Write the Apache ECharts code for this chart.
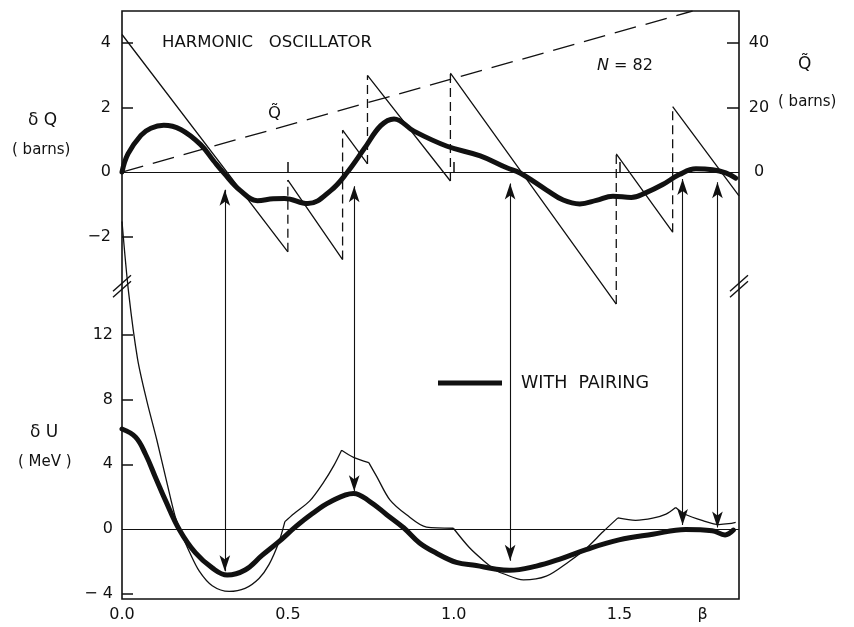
<!DOCTYPE html>
<html><head><meta charset="utf-8">
<script src="https://cdn.jsdelivr.net/npm/echarts@6/dist/echarts.min.js"></script>
<style>html,body{margin:0;padding:0;background:#fff}#c{width:854px;height:627px}</style>
</head><body><div id="c"></div>
<script>
// ---------- axes ----------
const betaRange = [0, 1.86];
const betaTickValues = [0.5, 1.0, 1.5];
const betaLabelValues = [0, 0.5, 1.0, 1.5, 1.75];   // 1.75 carries the "β" label
const dQRange = [-13.26, 5];
const dQTickValues = [-2, 2, 4];
const dQLabelValues = [-2, 0, 2, 4];
const qTildeRange = [-132.6, 50];
const qTildeTickValues = [20, 40];
const qTildeLabelValues = [0, 20, 40];
const dURange = [-4.32, 32.0];
const dUTickValues = [-4, 4, 8, 12];
const dULabelValues = [-4, 0, 4, 8, 12];

// ---------- Q~ (smooth quadrupole, dashed, right axis) ----------
const qTildeBeta = [0, 1.72];
const qTildeVal  = [0, 50];

// ---------- dQ without pairing (sawtooth), null = break ----------
const sawBeta = [0, 0.50, null, 0.50, 0.665, null, 0.665, 0.74, null, 0.74, 0.99, null, 0.99, 1.49, null, 1.49, 1.66, null, 1.66, 1.86];
const sawQ    = [4.27, -2.48, null, -0.25, -2.72, null, 1.3, 0.25, null, 3.0, -0.28, null, 3.07, -4.1, null, 0.56, -1.87, null, 2.03, -0.74];
// dashed jumps of the sawtooth
const jumpBeta = [0.50, 0.50, null, 0.665, 0.665, null, 0.74, 0.74, null, 0.99, 0.99, null, 1.49, 1.49, null, 1.66, 1.66];
const jumpQ    = [-2.48, -0.25, null, -2.72, 1.3, null, 0.25, 3.0, null, -0.28, 3.07, null, -4.1, 0.56, null, -1.87, 2.03];

// ---------- dQ with pairing (thick) ----------
const pairQBeta = [0, 0.018, 0.057, 0.087, 0.126, 0.177, 0.237, 0.276, 0.306, 0.357, 0.408, 0.456, 0.49, 0.56, 0.63, 0.68, 0.73, 0.78, 0.82, 0.88, 0.98, 1.08, 1.16, 1.20, 1.28, 1.33, 1.38, 1.43, 1.48, 1.535, 1.58, 1.63, 1.68, 1.73, 1.78, 1.82, 1.85];
const pairQ     = [0, 0.56, 1.14, 1.36, 1.45, 1.32, 0.85, 0.35, -0.02, -0.58, -0.89, -0.83, -0.82, -0.98, -0.57, 0.0, 0.72, 1.44, 1.65, 1.27, 0.8, 0.5, 0.13, -0.03, -0.56, -0.87, -0.99, -0.88, -0.75, -0.79, -0.64, -0.39, -0.08, 0.1, 0.07, -0.03, -0.19];

// ---------- dU without pairing (thin), null = kink break ----------
const thinUBeta = [0, 0.02, 0.047, 0.075, 0.105, 0.135, 0.16, 0.18, 0.203, 0.233, 0.272, 0.323, 0.371, 0.413, 0.443, 0.473, 0.491, null,
  0.491, 0.518, 0.566, 0.608, 0.638, 0.662, null,
  0.662, 0.698, 0.744, null,
  0.744, 0.768, 0.807, 0.858, 0.918, 0.999, null,
  0.999, 1.047, 1.09, 1.129, 1.15, 1.21, 1.279, 1.348, 1.399, 1.45, 1.495, null,
  1.495, 1.548, 1.60, 1.64, 1.669, null,
  1.669, 1.699, 1.751, 1.799, 1.829, 1.85];
const thinU = [19.0, 14.6, 10.5, 7.9, 5.5, 2.9, 0.8, -0.3, -1.4, -2.6, -3.5, -3.85, -3.66, -3.05, -2.2, -0.8, 0.46, null,
  0.46, 0.95, 1.74, 2.9, 3.9, 4.87, null,
  4.87, 4.43, 4.1, null,
  4.1, 3.24, 1.82, 0.88, 0.12, 0.05, null,
  0.05, -1.14, -1.95, -2.57, -2.76, -3.14, -2.91, -2.0, -1.2, -0.17, 0.69, null,
  0.69, 0.54, 0.67, 0.92, 1.33, null,
  1.33, 0.9, 0.52, 0.28, 0.33, 0.42];

// ---------- dU with pairing (thick) ----------
const pairUBeta = [0, 0.041, 0.071, 0.101, 0.131, 0.173, 0.221, 0.272, 0.317, 0.371, 0.422, 0.473, 0.521, 0.573, 0.627, 0.698, 0.747, 0.798, 0.849, 0.897, 0.948, 1.008, 1.068, 1.12, 1.168, 1.249, 1.318, 1.399, 1.498, 1.60, 1.699, 1.779, 1.818, 1.843];
const pairU     = [6.18, 5.68, 4.62, 3.19, 1.77, -0.04, -1.46, -2.4, -2.84, -2.53, -1.63, -0.78, 0.1, 0.94, 1.67, 2.2, 1.7, 0.89, 0.08, -0.86, -1.49, -2.06, -2.25, -2.45, -2.55, -2.29, -1.87, -1.27, -0.67, -0.32, -0.03, -0.1, -0.36, -0.06];

// ---------- double arrows: dQ zero crossing (top) <-> dU extremum (bottom) ----------
const arrowBeta    = [0.31, 0.70, 1.17, 1.69, 1.795];
const arrowTopQ    = [-0.55, -0.44, -0.36, -0.22, -0.32];
const arrowBottomU = [-2.6, 2.33, -1.96, 0.25, 0.1];

// axis-break position (in dU units)
const breakU = 15;

const FONT = 'DejaVu Sans';
const INK = '#111';

function pairs(xs, ys) {
  return xs.map((x, i) => (x === null || ys[i] === null) ? [null, null] : [x, ys[i]]);
}
function fmtNum(v) { return v < 0 ? '\u2212' + (-v) : String(v); }

const chart = echarts.init(document.getElementById('c'), null, {renderer: 'canvas'});

const labelStyle = {color: INK, fontFamily: FONT, fontSize: 16};

const option = {
  animation: false,
  backgroundColor: '#fff',
  grid: {left: 122, top: 11, width: 617, height: 588, show: true, borderColor: INK, borderWidth: 1.6, backgroundColor: 'transparent'},
  legend: {
    data: [{name: 'WITH PAIRING', icon: 'rect'}],
    left: 438, top: 374, padding: 0, itemWidth: 64, itemHeight: 5, selectedMode: false,
    formatter: () => 'WITH  PAIRING',
    textStyle: {color: INK, fontFamily: FONT, fontSize: 17.5, padding: [0, 0, 0, 14]}
  },
  xAxis: [{
    type: 'value', min: betaRange[0], max: betaRange[1], position: 'bottom',
    axisLine: {show: false}, splitLine: {show: false},
    axisTick: {show: true, inside: true, length: 10, customValues: betaTickValues, lineStyle: {color: INK, width: 1.5}},
    axisLabel: Object.assign({margin: 8, customValues: betaLabelValues,
      formatter: v => (Math.abs(v - 1.75) < 1e-6 ? 'β' : v.toFixed(1))}, labelStyle)
  }],
  yAxis: [{
    type: 'value', min: dQRange[0], max: dQRange[1], position: 'left',
    axisLine: {show: false}, splitLine: {show: false},
    axisTick: {show: true, inside: true, length: 11, customValues: dQTickValues, lineStyle: {color: INK, width: 1.5}},
    axisLabel: Object.assign({margin: 11, customValues: dQLabelValues, formatter: fmtNum}, labelStyle)
  }, {
    type: 'value', min: qTildeRange[0], max: qTildeRange[1], position: 'right',
    axisLine: {show: false}, splitLine: {show: false},
    axisTick: {show: true, inside: true, length: 12, customValues: qTildeTickValues, lineStyle: {color: INK, width: 1.5}},
    axisLabel: Object.assign({margin: 20, align: 'center', customValues: qTildeLabelValues, formatter: fmtNum}, labelStyle)
  }, {
    type: 'value', min: dURange[0], max: dURange[1], position: 'left',
    axisLine: {show: false}, splitLine: {show: false},
    axisTick: {show: true, inside: true, length: 11, customValues: dUTickValues, lineStyle: {color: INK, width: 1.5}},
    axisLabel: Object.assign({margin: 9, customValues: dULabelValues,
      formatter: v => (v < 0 ? '\u2212 ' + (-v) : String(v))}, labelStyle)
  }],
  series: [
    {id: 'qTilde', name: 'Q~', type: 'line', xAxisIndex: 0, yAxisIndex: 1, data: pairs(qTildeBeta, qTildeVal),
     showSymbol: false, symbol: 'none', silent: true, lineStyle: {color: INK, width: 1.3, type: [22, 10]}},
    {id: 'saw', name: 'dQ', type: 'line', xAxisIndex: 0, yAxisIndex: 0, data: pairs(sawBeta, sawQ),
     showSymbol: false, symbol: 'none', silent: true, lineStyle: {color: INK, width: 1.3}},
    {id: 'jumps', name: 'dQ jumps', type: 'line', xAxisIndex: 0, yAxisIndex: 0, data: pairs(jumpBeta, jumpQ),
     showSymbol: false, symbol: 'none', silent: true, lineStyle: {color: INK, width: 1.3, type: [9, 5]}},
    {id: 'pairQ', name: 'WITH PAIRING', type: 'line', xAxisIndex: 0, yAxisIndex: 0, data: pairs(pairQBeta, pairQ),
     showSymbol: false, symbol: 'none', silent: true, smooth: 0.4, z: 5, itemStyle: {color: INK},
     lineStyle: {color: INK, width: 5, cap: 'round', join: 'round'},
     markLine: {silent: true, symbol: 'none', label: {show: false}, lineStyle: {color: INK, width: 1.2, type: 'solid'}, data: [{yAxis: 0}]}},
    {id: 'thinU', name: 'dU', type: 'line', xAxisIndex: 0, yAxisIndex: 2, data: pairs(thinUBeta, thinU),
     showSymbol: false, symbol: 'none', silent: true, smooth: 0.3, lineStyle: {color: INK, width: 1.3}},
    {id: 'pairU', name: 'WITH PAIRING', type: 'line', xAxisIndex: 0, yAxisIndex: 2, data: pairs(pairUBeta, pairU),
     showSymbol: false, symbol: 'none', silent: true, smooth: 0.4, z: 5, itemStyle: {color: INK},
     lineStyle: {color: INK, width: 5, cap: 'round', join: 'round'},
     markLine: {silent: true, symbol: 'none', label: {show: false}, lineStyle: {color: INK, width: 1.2, type: 'solid'}, data: [{yAxis: 0}]}}
  ]
};
chart.setOption(option);

// second pass: arrows span both scales, convert top ends through the library's scales
const arrowLines = arrowBeta.map((b, i) => {
  const px = chart.convertToPixel({seriesIndex: 3}, [b, arrowTopQ[i]]);
  const topU = chart.convertFromPixel({seriesIndex: 5}, px)[1];
  return [{coord: [b, topU]}, {coord: [b, arrowBottomU[i]]}];
});

const bl = chart.convertToPixel({seriesIndex: 5}, [betaRange[0], breakU]);
const br = chart.convertToPixel({seriesIndex: 5}, [betaRange[1], breakU]);
function breakMark(p, id) {
  return [-3, 3].map((d, k) => ({
    type: 'line', id: id + k, silent: true, z: 20,
    shape: {x1: p[0] - 9, y1: p[1] + 8 + d, x2: p[0] + 9, y2: p[1] - 8 + d},
    style: {stroke: INK, lineWidth: 1.4}
  }));
}
function txt(id, text, left, top, size, extra) {
  return Object.assign({type: 'text', id: id, left: left, top: top, silent: true, z: 20,
    style: {text: text, fill: INK, font: size + 'px "' + FONT + '"'}}, extra || {});
}

chart.setOption({
  series: [{id: 'thinU', markLine: {
    silent: true, symbol: ['arrow', 'arrow'], symbolSize: [8, 16],
    label: {show: false}, lineStyle: {color: INK, width: 1.1, type: 'solid'}, data: arrowLines}}],
  graphic: [
    txt('t1', 'HARMONIC   OSCILLATOR', 162, 34, 16.5),
    {type: 'text', id: 't2', left: 597, top: 58, silent: true, z: 20,
     style: {text: '{i|N} = 82', fill: INK, font: '16px "' + FONT + '"',
       rich: {i: {fontStyle: 'italic', fontFamily: FONT, fontSize: 16, fill: INK}}}},
    txt('t3', 'Q\u0303', 268, 105, 16.5),
    txt('t4', 'δ Q', 28, 112, 17),
    txt('t5', '( barns)', 12, 143, 15),
    txt('t6', 'δ U', 30, 424, 17),
    txt('t7', '( MeV )', 18, 455, 15),
    txt('t8', 'Q\u0303', 798, 56, 17),
    txt('t9', '( barns)', 778, 95, 15)
  ].concat(breakMark(bl, 'bl'), breakMark(br, 'br'))
});
</script>
</body></html>
